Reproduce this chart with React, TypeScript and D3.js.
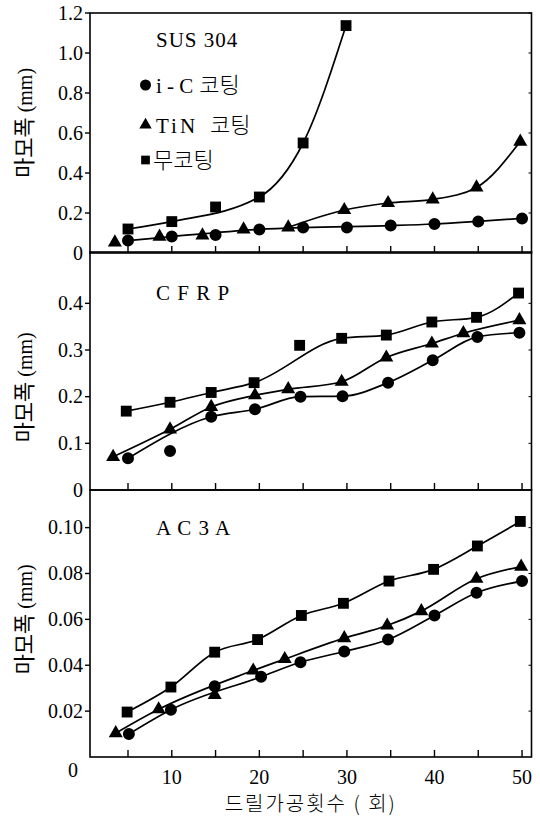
import React from "react";
import * as d3 from "d3";

// ---------- data ----------
const xTickValues = [5, 10, 15, 20, 25, 30, 35, 40, 45, 50];
const xTickLabels = [10, 20, 30, 40, 50];

// SUS 304
const susTicks = [0, 0.2, 0.4, 0.6, 0.8, 1.0, 1.2];
const susTickLabels = ["0", "0.2", "0.4", "0.6", "0.8", "1.0", "1.2"];
const susIcX = [5, 10, 15, 20, 25, 30, 35, 40, 45, 50];
const susIcY = [0.062, 0.082, 0.09, 0.118, 0.127, 0.127, 0.137, 0.145, 0.158, 0.173];
const susIcFit = [1, 1, 0, 1, 1, 0, 1, 1, 1, 1];
const susTinX = [3.5, 8.6, 13.5, 18.2, 23.3, 29.7, 34.7, 39.8, 44.8, 49.8];
const susTinY = [0.053, 0.082, 0.088, 0.118, 0.128, 0.215, 0.25, 0.268, 0.328, 0.557];
const susTinFit = [0, 0, 0, 0, 1, 1, 1, 1, 1, 1];
const susNoX = [5, 10, 15, 20, 25, 29.9];
const susNoY = [0.12, 0.157, 0.23, 0.28, 0.55, 1.137];
const susNoFit = [1, 1, 0, 1, 1, 1];

// CFRP
const cfTicks = [0, 0.1, 0.2, 0.3, 0.4];
const cfTickLabels = ["0", "0.1", "0.2", "0.3", "0.4"];
const cfIcX = [5, 9.8, 14.5, 19.5, 24.7, 29.5, 34.7, 39.8, 44.9, 49.7];
const cfIcY = [0.068, 0.0835, 0.157, 0.173, 0.2, 0.201, 0.23, 0.278, 0.328, 0.337];
const cfIcFit = [1, 0, 1, 1, 1, 1, 1, 1, 1, 1];
const cfTinX = [3.3, 9.8, 14.5, 19.5, 23.3, 29.4, 34.5, 39.7, 43.3, 49.7];
const cfTinY = [0.071, 0.13, 0.178, 0.203, 0.216, 0.232, 0.284, 0.314, 0.336, 0.364];
const cfTinFit = [1, 1, 1, 1, 1, 1, 1, 1, 1, 1];
const cfNoX = [4.8, 9.8, 14.5, 19.4, 24.6, 29.4, 34.5, 39.7, 44.8, 49.6];
const cfNoY = [0.169, 0.188, 0.209, 0.23, 0.31, 0.325, 0.332, 0.36, 0.37, 0.422];
const cfNoFit = [1, 1, 1, 1, 0, 1, 1, 1, 1, 1];

// AC3A
const acTicks = [0, 0.02, 0.04, 0.06, 0.08, 0.1];
const acTickLabels = ["0", "0.02", "0.04", "0.06", "0.08", "0.10"];
const acIcX = [5.1, 9.9, 14.9, 20.2, 24.7, 29.7, 34.7, 40, 44.8, 50];
const acIcY = [0.01, 0.0206, 0.0308, 0.035, 0.0413, 0.046, 0.0512, 0.0617, 0.0716, 0.0767];
const acIcFit = [1, 1, 0, 1, 1, 1, 1, 1, 1, 1];
const acTinX = [3.6, 8.5, 14.9, 19.3, 22.9, 29.7, 34.6, 38.5, 44.8, 49.9];
const acTinY = [0.0104, 0.0208, 0.027, 0.0377, 0.0427, 0.0518, 0.0573, 0.0636, 0.0777, 0.083];
const acTinFit = [1, 1, 0, 1, 1, 1, 1, 1, 1, 1];
const acNoX = [4.9, 9.9, 14.9, 19.8, 24.8, 29.6, 34.8, 39.9, 44.9, 49.8];
const acNoY = [0.0196, 0.0305, 0.0457, 0.0512, 0.0617, 0.067, 0.0767, 0.0818, 0.092, 0.1027];
const acNoFit = [1, 1, 1, 1, 1, 1, 1, 1, 1, 1];

// ---------- layout ----------
const W = 540;
const H = 819;
const LEFT = 90;
const RIGHT = 531.5;
const SERIF = "'Liberation Serif', 'Noto Sans CJK KR', serif";
const KR = "'Noto Sans CJK KR', sans-serif";

const x = d3.scaleLinear().domain([0.66, 51.08]).range([LEFT, RIGHT]);

type Series = { xs: number[]; ys: number[]; fit: number[]; shape: "circle" | "triangle" | "square" };
type Panel = {
  title: string;
  y: d3.ScaleLinear<number, number>;
  ticks: number[];
  labels: string[];
  series: Series[];
  titleYVal: number;
  labelYVal: number;
  zeroBelow: boolean;
};

const panels: Panel[] = [
  {
    title: "SUS 304",
    y: d3.scaleLinear().domain([0, 1.2]).range([253, 13]),
    ticks: susTicks,
    labels: susTickLabels,
    titleYVal: 1.03,
    labelYVal: 0.65,
    zeroBelow: false,
    series: [
      { xs: susNoX, ys: susNoY, fit: susNoFit, shape: "square" },
      { xs: susTinX, ys: susTinY, fit: susTinFit, shape: "triangle" },
      { xs: susIcX, ys: susIcY, fit: susIcFit, shape: "circle" },
    ],
  },
  {
    title: "C F R P",
    y: d3.scaleLinear().domain([0, 0.51]).range([490, 252]),
    ticks: cfTicks,
    labels: cfTickLabels,
    titleYVal: 0.407,
    labelYVal: 0.22,
    zeroBelow: false,
    series: [
      { xs: cfNoX, ys: cfNoY, fit: cfNoFit, shape: "square" },
      { xs: cfTinX, ys: cfTinY, fit: cfTinFit, shape: "triangle" },
      { xs: cfIcX, ys: cfIcY, fit: cfIcFit, shape: "circle" },
    ],
  },
  {
    title: "A C 3 A",
    y: d3.scaleLinear().domain([0, 0.1164]).range([757, 490]),
    ticks: acTicks,
    labels: acTickLabels,
    titleYVal: 0.0968,
    labelYVal: 0.06,
    zeroBelow: true,
    series: [
      { xs: acNoX, ys: acNoY, fit: acNoFit, shape: "square" },
      { xs: acTinX, ys: acTinY, fit: acTinFit, shape: "triangle" },
      { xs: acIcX, ys: acIcY, fit: acIcFit, shape: "circle" },
    ],
  },
];

const symTypes = {
  circle: d3.symbolCircle,
  triangle: d3.symbolTriangle,
  square: d3.symbolSquare,
};
const markSize = { circle: 113, triangle: 85, square: 118 };
const legendSize = { circle: 95, triangle: 66, square: 76 };

const legendItems = [
  { shape: "circle" as const, latin: "i - C", kr: "코팅", dx: 6, ls: 0 },
  { shape: "triangle" as const, latin: "TiN", kr: "코팅", dx: 12, ls: 3 },
  { shape: "square" as const, latin: "", kr: "무코팅", dx: 0, ls: 0 },
];
const legendYVals = [0.84, 0.64, 0.465];

export default function App() {
  const line = (p: Panel) =>
    d3
      .line<[number, number]>()
      .x((d) => x(d[0]))
      .y((d) => p.y(d[1]))
      .curve(d3.curveMonotoneX);

  return (
    <svg
      width={W}
      height={H}
      viewBox={`0 0 ${W} ${H}`}
      style={{ position: "absolute", left: 0, top: 0, background: "#fff" }}
    >
      <rect x={0} y={0} width={W} height={H} fill="#fff" />
      {panels.map((p, pi) => {
        const [y0, y1] = p.y.range();
        const lg = line(p);
        return (
          <g key={pi}>
            {/* frame */}
            <rect
              x={LEFT}
              y={y1}
              width={RIGHT - LEFT}
              height={y0 - y1}
              fill="none"
              stroke="#000"
              strokeWidth={1.6}
            />
            {/* x ticks (inward, bottom edge) */}
            {xTickValues.map((t) => (
              <line key={"xt" + t} x1={x(t)} x2={x(t)} y1={y0} y2={y0 - 7} stroke="#000" strokeWidth={1.4} />
            ))}
            {/* y ticks */}
            {p.ticks.map((t, i) =>
              t === 0 ? null : (
                <g key={"yt" + i}>
                  <line x1={LEFT - 5} x2={LEFT} y1={p.y(t)} y2={p.y(t)} stroke="#000" strokeWidth={1.4} />
                  <line x1={RIGHT - 3} x2={RIGHT} y1={p.y(t)} y2={p.y(t)} stroke="#000" strokeWidth={1} />
                </g>
              )
            )}
            {p.ticks.map((t, i) => (
              <text
                key={"yl" + i}
                x={t === 0 && p.zeroBelow ? LEFT - 12 : LEFT - 7}
                y={p.y(t) + (t === 0 && p.zeroBelow ? 13 : 0)}
                dy="0.34em"
                textAnchor="end"
                fontFamily={SERIF}
                fontSize={20}
                fill="#000"
              >
                {p.labels[i]}
              </text>
            ))}
            {/* y axis title */}
            <text
              transform={`translate(25,${p.y(p.labelYVal)}) rotate(-90)`}
              textAnchor="middle"
              dy="0.35em"
              fontFamily={SERIF}
              fontSize={20}
              fill="#000"
            >
              <tspan fontFamily={KR} fontSize={22}>마모폭</tspan>
              <tspan> (mm)</tspan>
            </text>
            {/* panel title */}
            <text
              x={x(8.2)}
              y={p.y(p.titleYVal)}
              fontFamily={SERIF}
              fontSize={21}
              letterSpacing={1}
              fill="#000"
            >
              {p.title}
            </text>
            {/* series */}
            {p.series.map((s, si) => {
              const pts: [number, number][] = s.xs
                .map((xv, i) => [xv, s.ys[i]] as [number, number])
                .filter((_, i) => s.fit[i] === 1);
              const sym = d3.symbol(symTypes[s.shape], markSize[s.shape])();
              return (
                <g key={"s" + si}>
                  <path d={lg(pts) || ""} fill="none" stroke="#000" strokeWidth={1.7} />
                  {s.xs.map((xv, i) => (
                    <path
                      key={i}
                      d={sym || ""}
                      transform={`translate(${x(xv)},${p.y(s.ys[i])})`}
                      fill="#000"
                    />
                  ))}
                </g>
              );
            })}
          </g>
        );
      })}

      {/* legend in top panel */}
      {legendItems.map((it, i) => {
        const yy = panels[0].y(legendYVals[i]);
        const sym = d3.symbol(symTypes[it.shape], legendSize[it.shape])();
        return (
          <g key={"lg" + i}>
            <path d={sym || ""} transform={`translate(${x(7.0)},${yy})`} fill="#000" />
            <text
              x={x(it.latin ? 8.2 : 7.85)}
              y={yy}
              dy="0.36em"
              fontFamily={SERIF}
              fontSize={21}
              fill="#000"
            >
              {it.latin ? <tspan letterSpacing={it.ls}>{it.latin}</tspan> : null}
              <tspan dx={it.dx} fontFamily={KR} fontSize={22} fontWeight={300}>
                {it.kr}
              </tspan>
            </text>
          </g>
        );
      })}

      {/* x tick labels */}
      {xTickLabels.map((t) => (
        <text
          key={"xl" + t}
          x={x(t)}
          y={panels[2].y(0) + 20}
          dy="0.34em"
          textAnchor="middle"
          fontFamily={SERIF}
          fontSize={20}
          fill="#000"
        >
          {t}
        </text>
      ))}
      {/* x axis title */}
      <text
        x={(LEFT + RIGHT) / 2}
        y={panels[2].y(0) + 47}
        dy="0.35em"
        textAnchor="middle"
        fontFamily={KR}
        fontSize={20}
        fontWeight={300}
        letterSpacing={2}
        fill="#000"
      >
        드릴가공횟수 ( 회)
      </text>
    </svg>
  );
}
